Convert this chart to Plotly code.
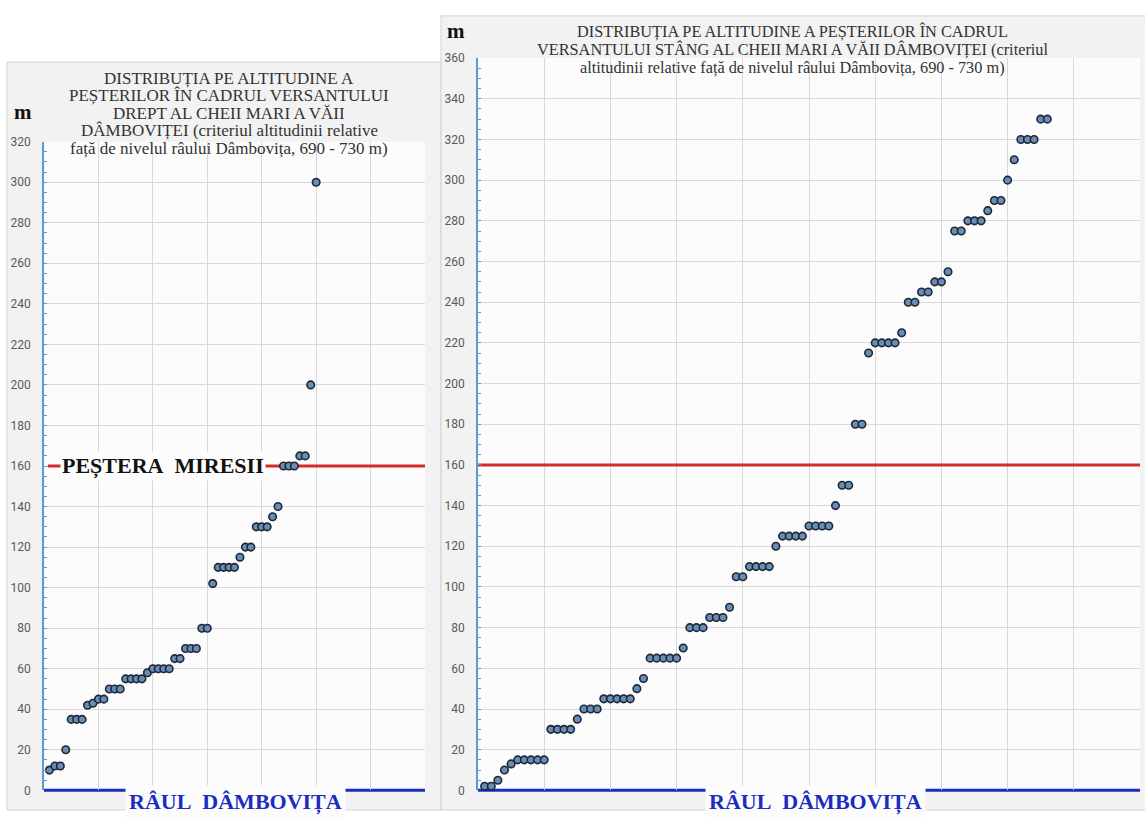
import plotly.graph_objects as go

W, H = 1145, 818

# Relative altitude (m) of caves above the Dâmbovița river, sorted ascending
drept_alt = [10, 12, 12, 20, 35, 35, 35, 42, 43, 45, 45, 50, 50, 50, 55, 55, 55, 55, 58,
             60, 60, 60, 60, 65, 65, 70, 70, 70, 80, 80, 102, 110, 110, 110, 110, 115,
             120, 120, 130, 130, 130, 135, 140, 160, 160, 160, 165, 165, 200, 300]
stang_alt = [2, 2, 5, 10, 13, 15, 15, 15, 15, 15, 30, 30, 30, 30, 35, 40, 40, 40,
             45, 45, 45, 45, 45, 50, 55, 65, 65, 65, 65, 65, 70, 80, 80, 80, 85, 85, 85,
             90, 105, 105, 110, 110, 110, 110, 120, 125, 125, 125, 125, 130, 130, 130, 130,
             140, 150, 150, 180, 180, 215, 220, 220, 220, 220, 225, 240, 240, 245, 245,
             250, 250, 255, 275, 275, 280, 280, 280, 285, 290, 290, 300, 310, 320, 320, 320,
             330, 330]
drept_rank = list(range(1, len(drept_alt) + 1))
stang_rank = list(range(1, len(stang_alt) + 1))

# Reference levels
river_level = 0
pestera_miresii = 160

# Axis ranges
drept_xrange, drept_yrange = [0, 70], [0, 320]
stang_xrange, stang_yrange = [0, 100], [0, 360]

title_drept = ["DISTRIBUȚIA PE ALTITUDINE A",
               "PEȘTERILOR ÎN CADRUL VERSANTULUI",
               "DREPT AL CHEII MARI A VĂII",
               "DÂMBOVIȚEI (criteriul altitudinii relative",
               "față de nivelul râului Dâmbovița, 690 - 730 m)"]
title_stang = ["DISTRIBUȚIA PE ALTITUDINE A PEȘTERILOR ÎN CADRUL",
               "VERSANTULUI STÂNG AL CHEII MARI A VĂII DÂMBOVIȚEI (criteriul",
               "altitudinii relative față de nivelul râului Dâmbovița, 690 - 730 m)"]


def px_x(p):
    return p / W


def px_y(p):
    return 1 - p / H


SERIF = "Liberation Serif, Times New Roman, serif"
GRID = "#d9d9d9"
AXIS_BLUE = "#5b9bd5"
RED = "#d52b2b"
RIVER_BLUE = "#1b2cc0"
PLOT_BG = "#fcfcfc"
NB = "\u00a0"

marker = dict(size=7.5, color="#6a8db5", line=dict(color="#1d2838", width=1.6))


def level_line(x0, x1, y, color, xa, ya):
    return go.Scatter(x=[x0, x1], y=[y, y], mode="lines", line=dict(color=color, width=3),
                      xaxis=xa, yaxis=ya, cliponaxis=False, showlegend=False, hoverinfo="skip")


fig = go.Figure()
# Peștera Miresii level
fig.add_trace(level_line(0.7, drept_xrange[1], pestera_miresii, RED, "x", "y"))
fig.add_trace(level_line(0, stang_xrange[1], pestera_miresii, RED, "x2", "y2"))
# caves
fig.add_trace(go.Scatter(x=drept_rank, y=drept_alt, mode="markers", marker=marker,
                         xaxis="x", yaxis="y", cliponaxis=False, showlegend=False))
fig.add_trace(go.Scatter(x=stang_rank, y=stang_alt, mode="markers", marker=marker,
                         xaxis="x2", yaxis="y2", cliponaxis=False, showlegend=False))

xcommon = dict(dtick=10, showgrid=True, gridcolor=GRID, gridwidth=1, showticklabels=False,
               zeroline=False, showline=False, ticks="", fixedrange=True)
ycommon = dict(dtick=20, showgrid=True, gridcolor=GRID, gridwidth=1, zeroline=False,
               showline=True, linecolor=AXIS_BLUE, linewidth=1.5, ticks="inside", ticklen=3,
               tickcolor=AXIS_BLUE, tickwidth=1,
               minor=dict(dtick=5, ticks="inside", ticklen=3, tickcolor=AXIS_BLUE, showgrid=False),
               tickfont=dict(family="Roboto, Open Sans, sans-serif", size=12, color="#595959"),
               ticklabelstandoff=9, fixedrange=True)

fig.update_layout(
    width=W, height=H,
    margin=dict(l=0, r=0, t=0, b=0),
    paper_bgcolor="white",
    plot_bgcolor="rgba(0,0,0,0)",
    xaxis=dict(domain=[px_x(44), px_x(425)], range=drept_xrange, anchor="y", **xcommon),
    yaxis=dict(domain=[px_y(797), px_y(137)], range=drept_yrange, anchor="x", **ycommon),
    xaxis2=dict(domain=[px_x(478), px_x(1140)], range=stang_xrange, anchor="y2", **xcommon),
    yaxis2=dict(domain=[px_y(797), px_y(52)], range=stang_yrange, anchor="x2", **ycommon),
)


def domain_frac(v, rng):
    return (v - rng[0]) / (rng[1] - rng[0])


shapes = [
    # chart panels
    dict(type="rect", xref="paper", yref="paper", x0=px_x(7), x1=px_x(441), y0=px_y(817), y1=px_y(56),
         fillcolor="#f2f2f2", line=dict(color="#d3d3d3", width=1), layer="below"),
    dict(type="rect", xref="paper", yref="paper", x0=px_x(441), x1=px_x(1150), y0=px_y(817), y1=px_y(9),
         fillcolor="#f2f2f2", line=dict(color="#d3d3d3", width=1), layer="below"),
    # plot areas
    dict(type="rect", xref="paper", yref="paper", x0=px_x(44), x1=px_x(425), y0=px_y(797), y1=px_y(137),
         fillcolor=PLOT_BG, line=dict(width=0), layer="below"),
    dict(type="rect", xref="paper", yref="paper", x0=px_x(478), x1=px_x(1140), y0=px_y(797), y1=px_y(52),
         fillcolor=PLOT_BG, line=dict(width=0), layer="below"),
    # river level, on the bottom edge of each plot
    dict(type="line", xref="x", yref="y domain", x0=drept_xrange[0], x1=drept_xrange[1],
         y0=domain_frac(river_level, drept_yrange), y1=domain_frac(river_level, drept_yrange),
         line=dict(color=RIVER_BLUE, width=3), layer="below"),
    dict(type="line", xref="x2", yref="y2 domain", x0=stang_xrange[0], x1=stang_xrange[1],
         y0=domain_frac(river_level, stang_yrange), y1=domain_frac(river_level, stang_yrange),
         line=dict(color=RIVER_BLUE, width=3), layer="below"),
]

annotations = []
# titles, one line at a time
for i, line in enumerate(title_drept):
    annotations.append(dict(text=line, xref="paper", yref="paper", x=px_x(229), y=px_y(72.5 + 17.8 * i),
                            xanchor="center", yanchor="middle", showarrow=False,
                            font=dict(family=SERIF, size=17, color="#333333")))
for i, line in enumerate(title_stang):
    annotations.append(dict(text=line, xref="paper", yref="paper", x=px_x(792), y=px_y(25 + 18.5 * i),
                            xanchor="center", yanchor="middle", showarrow=False,
                            font=dict(family=SERIF, size=16.3, color="#333333")))
# unit labels
for cx, cy in [(22.5, 107), (456, 24)]:
    annotations.append(dict(text="<b>m</b>", xref="paper", yref="paper", x=px_x(cx), y=px_y(cy),
                            xanchor="center", yanchor="middle", showarrow=False,
                            font=dict(family=SERIF, size=21, color="#111111")))
# level labels
annotations.append(dict(text="<b>PEȘTERA" + NB + NB + "MIRESII</b>", xref="x", yref="y", x=21.8,
                        y=pestera_miresii, xanchor="center", yanchor="middle", showarrow=False,
                        bgcolor=PLOT_BG, borderpad=1,
                        font=dict(family=SERIF, size=22, color="#111111")))
annotations.append(dict(text="<b>RÂUL" + NB + NB + "DÂMBOVIȚA</b>", xref="x", yref="y", x=35.1,
                        y=river_level, yshift=-12, xanchor="center", yanchor="middle", showarrow=False,
                        bgcolor=PLOT_BG, borderpad=3,
                        font=dict(family=SERIF, size=22, color=RIVER_BLUE)))
annotations.append(dict(text="<b>RÂUL" + NB + NB + "DÂMBOVIȚA</b>", xref="x2", yref="y2", x=51,
                        y=river_level, yshift=-12, xanchor="center", yanchor="middle", showarrow=False,
                        bgcolor=PLOT_BG, borderpad=3,
                        font=dict(family=SERIF, size=22, color=RIVER_BLUE)))

fig.update_layout(shapes=shapes, annotations=annotations)
fig.write_html("out.html")
